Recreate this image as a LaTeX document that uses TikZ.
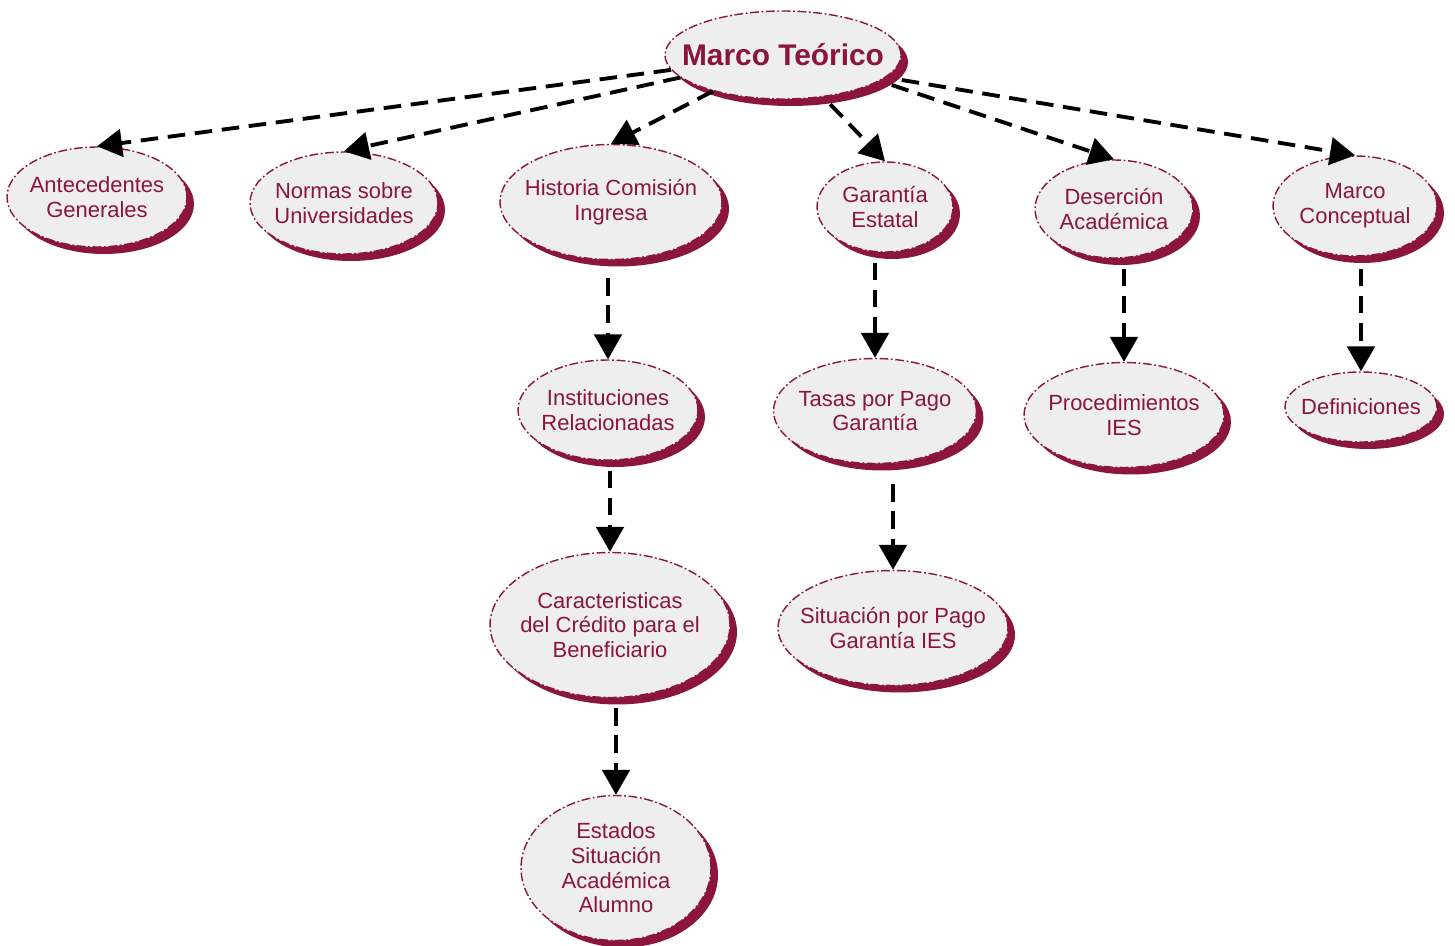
\documentclass[tikz,border=0pt]{standalone}
\usepackage{fontspec}
\setmainfont{Liberation Sans}
\usetikzlibrary{shapes.geometric,shadows,arrows.meta}

\definecolor{vino}{RGB}{139,21,60}
\definecolor{gris}{RGB}{238,238,238}

\tikzset{
    tema/.style={ellipse, draw=vino, fill=gris, line width=0.8pt,
        dash pattern=on 5pt off 1.5pt on 1pt off 1.5pt,
        text=vino, align=center, inner xsep=-0.35cm, inner ysep=0pt,
        font=\fontsize{12.5}{14}\selectfont,
        drop shadow={shadow xshift=0.14cm, shadow yshift=-0.14cm, fill=vino, opacity=1}},
    enlace/.style={-{Triangle[length=0.5cm,width=0.55cm]}, line width=2.2pt,
        dash pattern=on 10pt off 5.5pt},
}

\begin{document}
\begin{tikzpicture}[x=0.02cm,y=-0.02cm]
            \useasboundingbox (0,0) rectangle (1455,946);

            % raiz
            \node[tema, minimum width=4.6cm, minimum height=1.76cm,
                font=\bfseries\fontsize{17}{20}\selectfont] (mt) at (783,55) {Marco Teórico};

            % primer nivel
            \node[tema, minimum width=3.6cm, minimum height=2cm] (ant) at (97,197) {Antecedentes\\Generales};
            \node[tema, minimum width=3.76cm, minimum height=2.04cm] (nor) at (344,203) {Normas sobre\\Universidades};
            \node[tema, minimum width=4.44cm, minimum height=2.3cm] (his) at (611,202) {Historia Comisión\\Ingresa};
            \node[tema, minimum width=2.72cm, minimum height=1.8cm] (gar) at (885,207) {Garantía\\Estatal};
            \node[tema, minimum width=3.16cm, minimum height=1.96cm] (des) at (1114,209) {Deserción\\Académica};
            \node[tema, minimum width=3.28cm, minimum height=2cm] (mc) at (1355,206) {Marco\\Conceptual};

            % segundo nivel
            \node[tema, minimum width=3.6cm, minimum height=2cm] (ins) at (608,410) {Instituciones\\Relacionadas};
            \node[tema, minimum width=4.06cm, minimum height=2.1cm] (tas) at (875,411) {Tasas por Pago\\Garantía};
            \node[tema, minimum width=4cm, minimum height=2.1cm] (pro) at (1124,415) {Procedimientos\\IES};
            \node[tema, minimum width=3.04cm, minimum height=1.4cm] (def) at (1361,407) {Definiciones};

            % tercer y cuarto nivel
            \node[tema, minimum width=4.8cm, minimum height=2.9cm] (car) at (610,625) {Caracteristicas\\del Crédito para el\\Beneficiario};
            \node[tema, minimum width=4.6cm, minimum height=2.3cm] (sit) at (893,628) {Situación por Pago\\Garantía IES};
            \node[tema, minimum width=3.8cm, minimum height=2.9cm] (est) at (616,868) {Estados\\Situación\\Académica\\Alumno};

            % enlaces desde la raiz
            \draw[enlace] (mt) -- (ant.north);
            \draw[enlace] (mt) -- (nor.north);
            \draw[enlace] (mt) -- (his.north);
            \draw[enlace, shorten <=0.2cm] (mt) -- (gar.north);
            \draw[enlace] (mt.east) ++(-0.2cm,-0.6cm) -- (des.north);
            \draw[enlace] (mt.east) ++(0cm,-0.5cm) -- (mc.north);

            % enlaces verticales
            \draw[enlace, shorten <=0.36cm] (his.south -| ins) -- (ins.north);
            \draw[enlace, shorten <=0.2cm] (ins.south -| car) -- (car.north);
            \draw[enlace, shorten <=0.2cm] (car.south -| est) -- (est.north);
            \draw[enlace, shorten <=0.2cm] (gar.south -| tas) -- (tas.north);
            \draw[enlace, shorten <=0.4cm] (tas.south -| sit) -- (sit.north);
            \draw[enlace, shorten <=0.2cm] (des.south -| pro) -- (pro.north);
            \draw[enlace, shorten <=0.24cm] (mc.south -| def) -- (def.north);
        \end{tikzpicture}
\end{document}
